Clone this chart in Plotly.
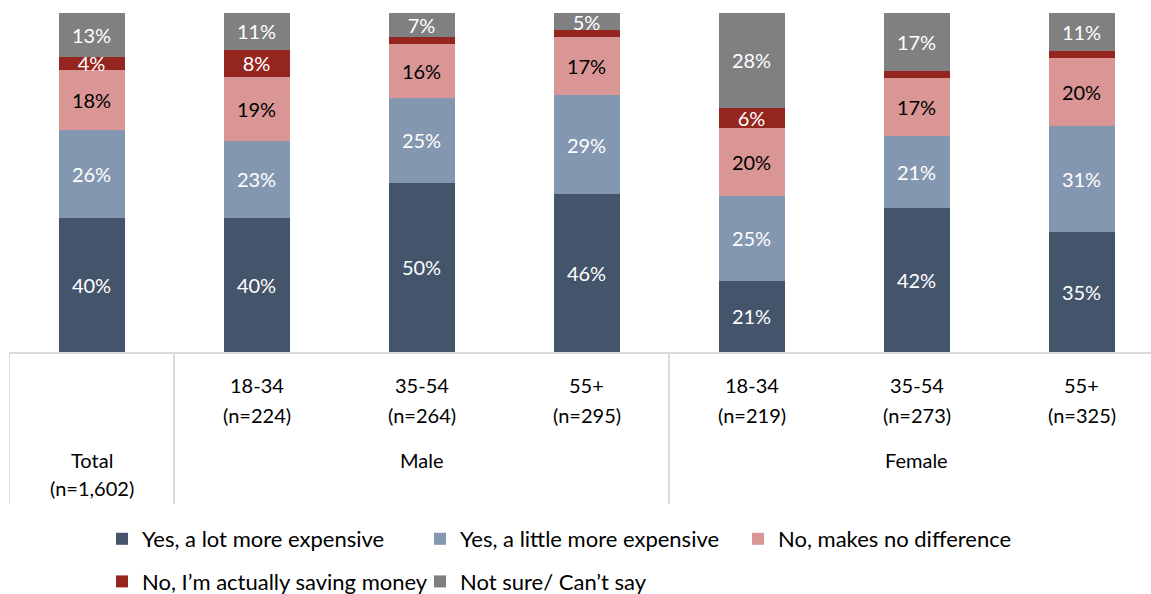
import plotly.graph_objects as go

# Survey segments (x positions) and their axis labels
segments = ["Total", "M 18-34", "M 35-54", "M 55+", "F 18-34", "F 35-54", "F 55+"]
age_labels = ["", "18-34", "35-54", "55+", "18-34", "35-54", "55+"]
sample_sizes = ["(n=1,602)", "(n=224)", "(n=264)", "(n=295)", "(n=219)", "(n=273)", "(n=325)"]
group_labels = ["Total", "Male", "Female"]
group_centers = [0, 2, 5]

# Response shares (%) per segment
lot_more = [40, 40, 50, 46, 21, 42, 35]
little_more = [26, 23, 25, 29, 25, 21, 31]
no_difference = [18, 19, 16, 17, 20, 17, 20]
saving_money = [4, 8, 2, 2, 6, 2, 2]
not_sure = [13, 11, 7, 5, 28, 17, 11]

# name, values, fill, label colour, legend column
series = [
    ("Yes, a lot more expensive", lot_more, "#44546A", "white", "legend"),
    ("Yes, a little more expensive", little_more, "#8497B0", "white", "legend2"),
    ("No, makes no difference", no_difference, "#DA9694", "black", "legend3"),
    ("No, I\u2019m actually saving money", saving_money, "#95261F", "white", "legend"),
    ("Not sure/ Can\u2019t say", not_sure, "#808080", "white", "legend2"),
]

FONT = "Lato, 'Open Sans', sans-serif"
LABEL_SIZE = 20
LEGEND_SIZE = 22

fig = go.Figure()
for name, values, color, text_color, legend_id in series:
    labels = [f"{v}%" if v >= 4 else "" for v in values]
    fig.add_trace(go.Bar(
        name=name,
        x=segments,
        y=values,
        text=labels,
        textposition="inside",
        insidetextanchor="middle",
        textangle=0,
        textfont=dict(color=text_color, size=LABEL_SIZE, family=FONT),
        marker=dict(color=color, line=dict(width=0)),
        legend=legend_id,
        legendgroup=name,
        hoverinfo="skip",
    ))

# Paper-y positions below the plot area for the category table rows
plot_h = 339.0


def below(px):
    return -px / plot_h


annotations = []
for i, (age, n) in enumerate(zip(age_labels, sample_sizes)):
    if age:
        annotations.append(dict(x=segments[i], y=below(33), text=age))
        annotations.append(dict(x=segments[i], y=below(63), text=n))
    else:
        annotations.append(dict(x=segments[i], y=below(136), text=n))
for label, c in zip(group_labels, group_centers):
    annotations.append(dict(x=segments[c], y=below(108), text=label))
for a in annotations:
    a.update(xref="x", yref="paper", showarrow=False, yanchor="middle",
             xanchor="center", font=dict(size=LABEL_SIZE, color="black", family=FONT))

# Vertical divider lines of the category table
shapes = []
for edge in [-0.5, 0.5, 3.5]:
    shapes.append(dict(type="line", xref="x", yref="paper", x0=edge, x1=edge,
                       y0=0, y1=below(152), line=dict(color="#D9D9D9", width=2)))

# Legend laid out as three columns below the table
legend_style = dict(orientation="v", xanchor="left", yanchor="top",
                    xref="container", yref="container",
                    tracegroupgap=11, traceorder="grouped",
                    font=dict(size=LEGEND_SIZE, color="black", family=FONT),
                    bgcolor="rgba(0,0,0,0)")
legend_top = (594 - 518) / 594

fig.update_layout(
    width=1151, height=594,
    margin=dict(l=9, r=0, t=13, b=242, autoexpand=False),
    barmode="stack",
    barnorm="percent",
    bargap=0.6,
    plot_bgcolor="white",
    paper_bgcolor="white",
    showlegend=True,
    uniformtext=dict(minsize=LABEL_SIZE, mode="show"),
    xaxis=dict(
        type="category",
        categoryorder="array",
        categoryarray=segments,
        range=[-0.5, -0.5 + 1142 / 165],
        showticklabels=False,
        ticks="",
        showgrid=False,
        showline=True,
        linecolor="#D9D9D9",
        linewidth=2,
        zeroline=False,
    ),
    yaxis=dict(range=[0, 100], visible=False, showgrid=False, zeroline=False),
    annotations=annotations,
    shapes=shapes,
    legend=dict(x=102 / 1151, y=legend_top, **legend_style),
    legend2=dict(x=420 / 1151, y=legend_top, **legend_style),
    legend3=dict(x=738 / 1151, y=legend_top, **legend_style),
    font=dict(family=FONT),
)

fig.write_html("out.html")
